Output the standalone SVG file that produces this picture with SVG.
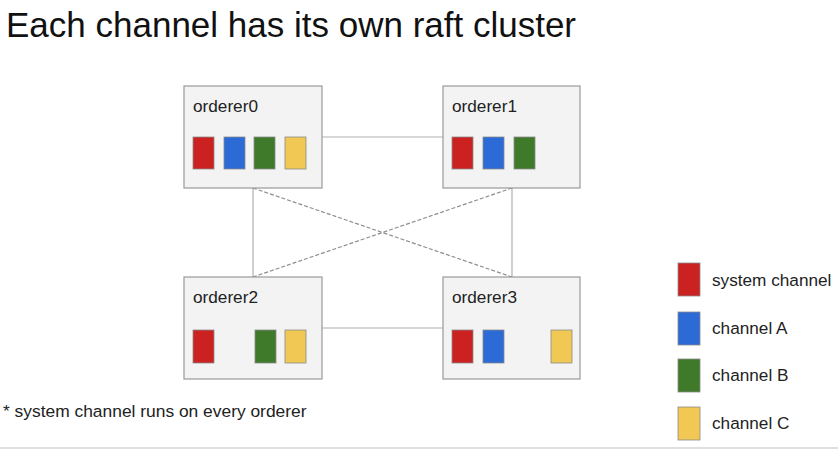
<svg xmlns="http://www.w3.org/2000/svg" width="838" height="450" viewBox="0 0 838 450">
<style>
text{font-family:"Liberation Sans",Arial,sans-serif;fill:#222}
.title{font-size:35px;fill:#111}
.lbl{font-size:17.2px}
.note{font-size:17.4px}
.box{fill:#f3f3f4;stroke:#9a9a9a;stroke-width:1.2}
.sq{stroke:#8a8a8a;stroke-width:0.8}
.r{fill:#cc2121}.b{fill:#2c6ad6}.g{fill:#3f7a2a}.y{fill:#f1c853}
.solid{stroke:#b0b0b0;stroke-width:1.2;fill:none}
.dash{stroke:#8c8c8c;stroke-width:1.2;stroke-dasharray:4 2;fill:none}
</style>
<rect width="838" height="450" fill="#fff"/>
<text class="title" x="6" y="37">Each channel has its own raft cluster</text>
<g id="connectors">
<line class="solid" x1="322" y1="137" x2="443" y2="137"/>
<line class="solid" x1="322" y1="328" x2="443" y2="328"/>
<line class="solid" x1="253" y1="188" x2="253" y2="277"/>
<line class="solid" x1="512" y1="188" x2="512" y2="277"/>
<line class="dash" x1="253" y1="188" x2="512" y2="277"/>
<line class="dash" x1="512" y1="188" x2="253" y2="277"/>
</g>
<g id="orderer0">
<rect class="box" x="184" y="86" width="138" height="102"/>
<text class="lbl" x="193" y="112">orderer0</text>
<rect class="sq r" x="193" y="137" width="21" height="32"/>
<rect class="sq b" x="224" y="137" width="21" height="32"/>
<rect class="sq g" x="254" y="137" width="21" height="32"/>
<rect class="sq y" x="285" y="137" width="21" height="32"/>
</g>
<g id="orderer1">
<rect class="box" x="443" y="86" width="137" height="102"/>
<text class="lbl" x="452" y="112">orderer1</text>
<rect class="sq r" x="452" y="137" width="21" height="32"/>
<rect class="sq b" x="483" y="137" width="21" height="32"/>
<rect class="sq g" x="514" y="137" width="21" height="32"/>
</g>
<g id="orderer2">
<rect class="box" x="184" y="277" width="138" height="102"/>
<text class="lbl" x="193" y="303">orderer2</text>
<rect class="sq r" x="193" y="330" width="21" height="33"/>
<rect class="sq g" x="255" y="330" width="21" height="33"/>
<rect class="sq y" x="285" y="330" width="21" height="33"/>
</g>
<g id="orderer3">
<rect class="box" x="443" y="277" width="137" height="102"/>
<text class="lbl" x="452" y="303">orderer3</text>
<rect class="sq r" x="452" y="330" width="21" height="33"/>
<rect class="sq b" x="483" y="330" width="21" height="33"/>
<rect class="sq y" x="551" y="330" width="21" height="33"/>
</g>
<g id="legend">
<rect class="sq r" x="678" y="263" width="22" height="33"/>
<text class="lbl" x="712" y="286">system channel</text>
<rect class="sq b" x="678" y="312" width="22" height="33"/>
<text class="lbl" x="712" y="334">channel A</text>
<rect class="sq g" x="678" y="359" width="22" height="33"/>
<text class="lbl" x="712" y="381">channel B</text>
<rect class="sq y" x="678" y="407" width="22" height="33"/>
<text class="lbl" x="712" y="429">channel C</text>
</g>
<text class="note" x="3" y="417">* system channel runs on every orderer</text>
<line x1="0" y1="448" x2="838" y2="448" stroke="#d4d4d4" stroke-width="1.5"/>
</svg>
